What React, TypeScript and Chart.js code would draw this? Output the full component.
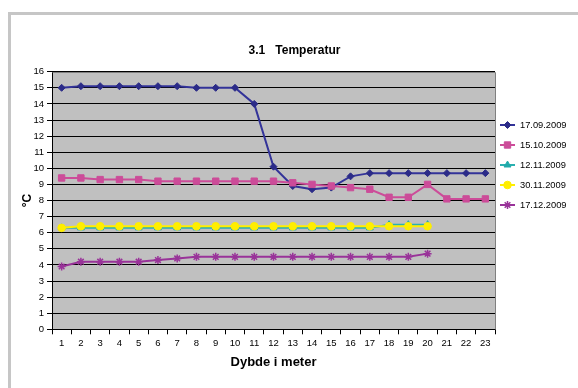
import React, { useEffect, useRef } from 'react';
import { Chart, registerables } from 'chart.js';
import * as helpers from 'chart.js/helpers';

Chart.register(...registerables);

const FONT = "'Liberation Sans', Arial, sans-serif";

const chartTitle = '3.1   Temperatur';
const xTitle = 'Dybde i meter';
const yTitle = '°C';

const depths = ['1', '2', '3', '4', '5', '6', '7', '8', '9', '10', '11', '12', '13', '14', '15', '16', '17', '18', '19', '20', '21', '22', '23'];

const seriesNames = ['17.09.2009', '15.10.2009', '12.11.2009', '30.11.2009', '17.12.2009'];

const temp170909 = [15.0, 15.1, 15.1, 15.1, 15.1, 15.1, 15.1, 15.0, 15.0, 15.0, 14.0, 10.1, 8.9, 8.7, 8.8, 9.5, 9.7, 9.7, 9.7, 9.7, 9.7, 9.7, 9.7];
const temp151009 = [9.4, 9.4, 9.3, 9.3, 9.3, 9.2, 9.2, 9.2, 9.2, 9.2, 9.2, 9.2, 9.1, 9.0, 8.9, 8.8, 8.7, 8.2, 8.2, 9.0, 8.1, 8.1, 8.1];
const temp121109 = [6.3, 6.3, 6.3, 6.3, 6.3, 6.3, 6.3, 6.3, 6.3, 6.3, 6.3, 6.3, 6.3, 6.3, 6.3, 6.3, 6.3, 6.5, 6.5, 6.5];
const temp301109 = [6.3, 6.4, 6.4, 6.4, 6.4, 6.4, 6.4, 6.4, 6.4, 6.4, 6.4, 6.4, 6.4, 6.4, 6.4, 6.4, 6.4, 6.4, 6.4, 6.4];
const temp171209 = [3.9, 4.2, 4.2, 4.2, 4.2, 4.3, 4.4, 4.5, 4.5, 4.5, 4.5, 4.5, 4.5, 4.5, 4.5, 4.5, 4.5, 4.5, 4.5, 4.7];

const yMin = 0;
const yMax = 16;
const yStep = 1;

const seriesData = [temp170909, temp151009, temp121109, temp301109, temp171209];
const lineColors = ['#333399', '#CC4C99', '#2AB0B0', '#FFEE00', '#993399'];
const markerColors = ['#2B2B88', '#CC4C99', '#20AAAA', '#FFEE00', '#993399'];
const markerStyles = ['rectRot', 'rect', 'triangle', 'circle', 'star'];
const markerRadius = [3.5, 4.5, 4, 3.8, 4];

const plotDecor = {
  id: 'plotDecor',
  beforeDraw(chart: any) {
    const { ctx, chartArea: a } = chart;
    ctx.save();
    ctx.fillStyle = '#C0C0C0';
    ctx.fillRect(a.left, a.top, a.right - a.left, a.bottom - a.top);
    ctx.restore();
  },
  beforeDatasetsDraw(chart: any) {
    const { ctx, chartArea: a } = chart;
    ctx.save();
    ctx.strokeStyle = '#808080';
    ctx.lineWidth = 1;
    ctx.beginPath();
    ctx.moveTo(Math.round(a.left) + 0.5, Math.round(a.top) + 0.5);
    ctx.lineTo(Math.round(a.right) + 0.5, Math.round(a.top) + 0.5);
    ctx.lineTo(Math.round(a.right) + 0.5, Math.round(a.bottom) + 0.5);
    ctx.stroke();
    ctx.restore();
  },
  afterDraw(chart: any) {
    const { ctx } = chart;
    ctx.save();
    // title
    ctx.fillStyle = '#000';
    ctx.font = `bold 12px ${FONT}`;
    ctx.textAlign = 'center';
    ctx.textBaseline = 'middle';
    ctx.fillText(chartTitle, 294.5, 51);
    // legend
    ctx.font = `9.3px ${FONT}`;
    ctx.textAlign = 'left';
    chart.data.datasets.forEach((ds: any, i: number) => {
      const y = 125 + i * 20;
      ctx.strokeStyle = ds.borderColor;
      ctx.lineWidth = 2;
      ctx.beginPath();
      ctx.moveTo(500, y);
      ctx.lineTo(515, y);
      ctx.stroke();
      ctx.fillStyle = ds.pointBackgroundColor;
      ctx.strokeStyle = ds.pointBorderColor;
      ctx.lineWidth = ds.pointBorderWidth;
      helpers.drawPoint(ctx, { pointStyle: ds.pointStyle, radius: ds.pointRadius, borderWidth: ds.pointBorderWidth, rotation: 0 } as any, 507.5, y);
      ctx.fillStyle = '#000';
      ctx.fillText(ds.label, 520, y + 0.5);
    });
    ctx.restore();
  },
};

export default function App() {
  const canvasRef = useRef<HTMLCanvasElement | null>(null);

  useEffect(() => {
    if (!canvasRef.current) return;
    const datasets = seriesNames.map((name, i) => ({
      label: name,
      data: seriesData[i],
      borderColor: lineColors[i],
      backgroundColor: markerColors[i],
      borderWidth: 2,
      pointStyle: markerStyles[i],
      pointRadius: markerRadius[i],
      pointBackgroundColor: markerColors[i],
      pointBorderColor: markerColors[i],
      pointBorderWidth: i === 4 ? 1.5 : 1,
      tension: 0,
      fill: false,
      order: seriesNames.length - i,
    }));

    const chart = new Chart(canvasRef.current, {
      type: 'line',
      data: { labels: depths, datasets },
      plugins: [plotDecor],
      options: {
        animation: false,
        responsive: false,
        maintainAspectRatio: false,
        devicePixelRatio: 1,
        layout: { padding: { left: 0, right: 83, top: 71.7, bottom: 0 } },
        plugins: {
          legend: { display: false },
          title: { display: false },
          tooltip: { enabled: false },
        },
        scales: {
          x: {
            type: 'category',
            offset: true,
            grid: { offset: true, drawOnChartArea: false, color: '#000', tickColor: '#000', tickLength: 5 },
            border: { color: '#000', width: 1 },
            ticks: { color: '#000', font: { family: FONT, size: 9.5 }, padding: 3, maxRotation: 0, autoSkip: false },
            title: {
              display: true,
              text: xTitle,
              color: '#000',
              font: { family: FONT, size: 13, weight: 'bold' },
              padding: { top: 0, bottom: 18 },
            },
            afterFit: (s: any) => { s.height = 58.7; },
          },
          y: {
            min: yMin,
            max: yMax,
            ticks: { stepSize: yStep, color: '#000', font: { family: FONT, size: 9.5 }, padding: 3 },
            grid: { color: '#000', tickColor: '#000', tickLength: 5, lineWidth: 1 },
            border: { color: '#000', width: 1 },
            title: {
              display: true,
              text: yTitle,
              color: '#000',
              font: { family: FONT, size: 12, weight: 'bold' },
              padding: { top: 20, bottom: 0 },
            },
            afterFit: (s: any) => { s.width = 52; },
          },
        },
      } as any,
    });
    return () => chart.destroy();
  }, []);

  return (
    <div style={{ position: 'absolute', left: 0, top: 0, width: 578, height: 388, overflow: 'hidden', background: '#fff' }}>
      <div
        style={{
          position: 'absolute',
          left: 8,
          top: 12,
          width: 620,
          height: 420,
          borderLeft: '3px solid #C6C6C6',
          borderTop: '3px solid #C6C6C6',
          boxSizing: 'border-box',
        }}
      />
      <canvas ref={canvasRef} width={578} height={388} style={{ position: 'absolute', left: 0, top: 0, width: 578, height: 388 }} />
    </div>
  );
}
